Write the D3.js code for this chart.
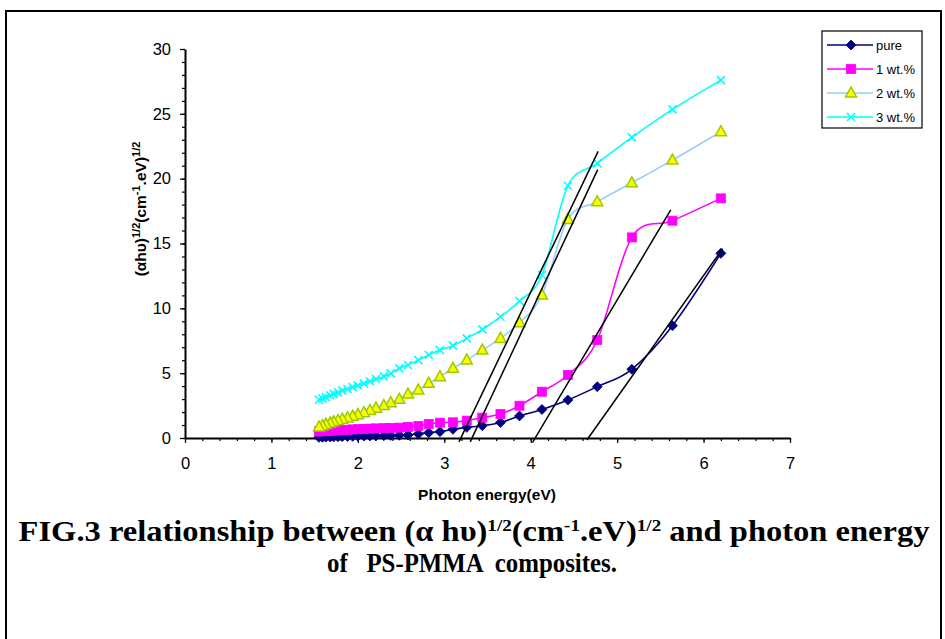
<!DOCTYPE html>
<html>
<head>
<meta charset="utf-8">
<script src="https://cdn.jsdelivr.net/npm/d3@7"></script>
<style>
  body { margin: 0; background: #fff; }
  text { font-family: Arial, "Liberation Sans", sans-serif; }
  .caption { font-family: "Times New Roman", "Liberation Serif", serif; font-weight: bold; }
</style>
</head>
<body>
<div id="chart"></div>
<script>
// photon energy (eV), 200-800 nm in 20 nm steps
const energy = [6.2, 5.64, 5.17, 4.77, 4.43, 4.13, 3.87, 3.65, 3.44, 3.26, 3.1, 2.95, 2.82, 2.70, 2.58,
  2.48, 2.38, 2.30, 2.21, 2.14, 2.07, 2.0, 1.94, 1.88, 1.82, 1.77, 1.72, 1.68, 1.63, 1.59, 1.55];

const pureVals = [14.24, 8.66, 5.3, 3.96, 2.93, 2.2, 1.7, 1.2, 0.95, 0.82, 0.67, 0.49, 0.41, 0.31, 0.23,
  0.21, 0.2, 0.18, 0.17, 0.16, 0.15, 0.14, 0.13, 0.12, 0.11, 0.1, 0.09, 0.08, 0.07, 0.06, 0.05];
const wt1Vals = [18.48, 16.76, 15.47, 7.56, 4.86, 3.57, 2.49, 1.85, 1.57, 1.34, 1.21, 1.18, 1.08, 0.93, 0.85,
  0.8, 0.78, 0.76, 0.74, 0.72, 0.7, 0.68, 0.66, 0.64, 0.62, 0.6, 0.58, 0.56, 0.54, 0.52, 0.5];
const wt2Vals = [23.62, 21.43, 19.68, 18.22, 16.86, 11.03, 8.89, 7.68, 6.78, 6.01, 5.37, 4.73, 4.22, 3.70, 3.39,
  2.98, 2.72, 2.5, 2.3, 2.12, 1.95, 1.8, 1.68, 1.55, 1.45, 1.35, 1.25, 1.15, 1.05, 0.95, 0.85];
const wt3Vals = [27.6, 25.34, 23.18, 21.18, 19.45, 12.57, 10.56, 9.35, 8.38, 7.68, 7.12, 6.78, 6.4, 6.01, 5.63,
  5.37, 4.98, 4.75, 4.55, 4.38, 4.2, 4.05, 3.92, 3.78, 3.65, 3.52, 3.4, 3.3, 3.15, 3.05, 2.95];

const seriesNames = ["pure", "1 wt.%", "2 wt.%", "3 wt.%"];

// straight-line fits drawn on the figure: [x1, y1, x2, y2]
const fitLines = [
  [3.17, -0.3, 4.78, 22.1],
  [3.30, -0.3, 4.775, 20.7],
  [4.02, -0.35, 5.62, 17.6],
  [4.65, -0.15, 6.22, 14.6]
];

const xTicks = [0, 1, 2, 3, 4, 5, 6, 7];
const yTicks = [0, 5, 10, 15, 20, 25, 30];

const W = 945, H = 639;
const svg = d3.select("#chart").append("svg")
  .attr("width", W).attr("height", H);

svg.append("rect")
  .attr("x", 6).attr("y", 11).attr("width", 935).attr("height", 630)
  .attr("fill", "none").attr("stroke", "#000").attr("stroke-width", 2);

const x = d3.scaleLinear().domain([0, 7]).range([185, 790]);
const y = d3.scaleLinear().domain([0, 30]).range([438, 49]);

// minor ticks
svg.append("g")
  .attr("transform", `translate(0,${y(0)})`)
  .call(d3.axisBottom(x).tickValues(d3.range(0, 7.01, 0.2)).tickSize(3).tickFormat(""))
  .call(g => g.select(".domain").remove());
svg.append("g")
  .attr("transform", `translate(${x(0)},0)`)
  .call(d3.axisLeft(y).tickValues(d3.range(0, 30.01, 1)).tickSize(3).tickFormat(""))
  .call(g => g.select(".domain").remove());

// major ticks + labels
const xAxis = svg.append("g")
  .attr("transform", `translate(0,${y(0)})`)
  .call(d3.axisBottom(x).tickValues(xTicks).tickFormat(d3.format("d"))
    .tickSize(5).tickSizeOuter(0).tickPadding(14));
const yAxis = svg.append("g")
  .attr("transform", `translate(${x(0)},0)`)
  .call(d3.axisLeft(y).tickValues(yTicks).tickFormat(d3.format("d"))
    .tickSize(5).tickSizeOuter(0).tickPadding(9));

[xAxis, yAxis].forEach(a => {
  a.attr("font-size", null).attr("font-family", null);
  a.selectAll("path, line").attr("stroke", "#000");
  a.select(".domain").attr("stroke-width", 2);
  a.selectAll("text").style("font-size", "16.5px").attr("fill", "#000");
});
svg.selectAll(".tick line").attr("stroke-width", 1.2);

// axis titles
svg.append("text")
  .attr("x", 487).attr("y", 500)
  .attr("text-anchor", "middle")
  .style("font-size", "15.5px").attr("font-weight", "bold")
  .text("Photon energy(eV)");

const yt = svg.append("text")
  .attr("transform", "translate(146,209) rotate(-90)")
  .attr("text-anchor", "middle")
  .style("font-size", "15.5px").attr("font-weight", "bold");
yt.append("tspan").text("(αhυ)");
yt.append("tspan").attr("dy", -6).style("font-size", "11px").text("1/2");
yt.append("tspan").attr("dy", 6).text("(cm");
yt.append("tspan").attr("dy", -6).style("font-size", "11px").text("-1");
yt.append("tspan").attr("dy", 6).text(".eV)");
yt.append("tspan").attr("dy", -6).style("font-size", "11px").text("1/2");

// series
const series = [
  { name: seriesNames[0], vals: pureVals, line: "#000080", marker: "diamond", fill: "#000080", stroke: "#000080" },
  { name: seriesNames[1], vals: wt1Vals, line: "#FF00FF", marker: "square", fill: "#FF00FF", stroke: "#FF00FF" },
  { name: seriesNames[2], vals: wt2Vals, line: "#99CCFF", marker: "triangle", fill: "#FFFF00", stroke: "#99CC00" },
  { name: seriesNames[3], vals: wt3Vals, line: "#00FFFF", marker: "cross", fill: "none", stroke: "#00FFFF" }
];

const lineGen = d3.line()
  .x(d => x(d[0])).y(d => y(d[1]))
  .curve(d3.curveCardinal.tension(0));

function drawMarker(g, type, fill, stroke, cx, cy) {
  if (type === "diamond") {
    g.append("path").attr("d", `M${cx},${cy - 5}L${cx + 5},${cy}L${cx},${cy + 5}L${cx - 5},${cy}Z`)
      .attr("fill", fill).attr("stroke", stroke).attr("stroke-width", 0.8);
  } else if (type === "square") {
    g.append("rect").attr("x", cx - 4.5).attr("y", cy - 4.5).attr("width", 9).attr("height", 9)
      .attr("fill", fill).attr("stroke", stroke).attr("stroke-width", 0.8);
  } else if (type === "triangle") {
    g.append("path").attr("d", `M${cx},${cy - 6}L${cx + 5.5},${cy + 4}L${cx - 5.5},${cy + 4}Z`)
      .attr("fill", fill).attr("stroke", stroke).attr("stroke-width", 1.5);
  } else {
    g.append("path").attr("d", `M${cx - 4},${cy - 4}L${cx + 4},${cy + 4}M${cx + 4},${cy - 4}L${cx - 4},${cy + 4}`)
      .attr("fill", "none").attr("stroke", stroke).attr("stroke-width", 1.6);
  }
}

series.forEach(s => {
  const pts = energy.map((e, i) => [e, s.vals[i]]);
  const g = svg.append("g");
  g.append("path").datum(pts)
    .attr("d", lineGen)
    .attr("fill", "none").attr("stroke", s.line).attr("stroke-width", 1.6);
  pts.forEach(p => drawMarker(g, s.marker, s.fill, s.stroke, x(p[0]), y(p[1])));
});

// fitted straight lines
svg.append("g").selectAll("line")
  .data(fitLines).join("line")
  .attr("x1", d => x(d[0])).attr("y1", d => y(d[1]))
  .attr("x2", d => x(d[2])).attr("y2", d => y(d[3]))
  .attr("stroke", "#000").attr("stroke-width", 1.5);

// legend
const lg = svg.append("g");
lg.append("rect").attr("x", 822).attr("y", 31).attr("width", 100).attr("height", 97)
  .attr("fill", "#fff").attr("stroke", "#000").attr("stroke-width", 1.2);
series.forEach((s, i) => {
  const ly = 45 + i * 24;
  lg.append("line").attr("x1", 827).attr("x2", 873).attr("y1", ly).attr("y2", ly)
    .attr("stroke", s.line).attr("stroke-width", 1.6);
  drawMarker(lg, s.marker, s.fill, s.stroke, 851, ly);
  lg.append("text").attr("x", 876).attr("y", ly + 4.5)
    .style("font-size", "13px").text(s.name);
});

// caption, each line stretched to the width it takes in the figure
function fitLine(g, text, cx, w) {
  const sx = w / text.node().getBBox().width;
  g.attr("transform", `translate(${cx},0) scale(${sx},1)`);
}

const cap1 = svg.append("g");
const c1 = cap1.append("text").attr("class", "caption")
  .attr("y", 541).attr("text-anchor", "middle").style("font-size", "29px");
c1.append("tspan").text("FIG.3 relationship between (α hυ)");
c1.append("tspan").attr("dy", -10).style("font-size", "17px").text("1/2");
c1.append("tspan").attr("dy", 10).text("(cm");
c1.append("tspan").attr("dy", -10).style("font-size", "17px").text("-1");
c1.append("tspan").attr("dy", 10).text(".eV)");
c1.append("tspan").attr("dy", -10).style("font-size", "17px").text("1/2");
c1.append("tspan").attr("dy", 10).text(" and photon energy");
fitLine(cap1, c1, 474, 912);

const cap2 = svg.append("g");
const c2 = cap2.append("text").attr("class", "caption")
  .attr("y", 572).attr("text-anchor", "middle").style("font-size", "27px")
  .attr("xml:space", "preserve")
  .text("of   PS-PMMA  composites.");
fitLine(cap2, c2, 472, 290);
</script>
</body>
</html>
